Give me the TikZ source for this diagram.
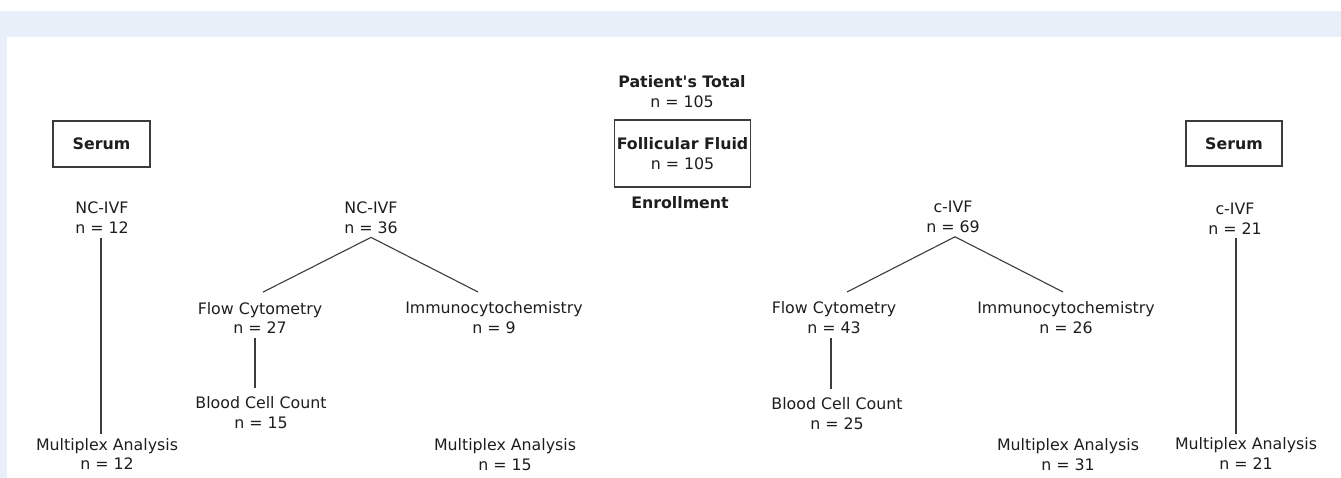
\documentclass[tikz,border=0pt]{standalone}
\usepackage{fontspec}
\newfontfamily\dejavu{DejaVu Sans}
\usetikzlibrary{positioning,calc}
\definecolor{bandblue}{HTML}{E8EFF9}
\definecolor{ink}{HTML}{1E1E1E}
\definecolor{rulegray}{HTML}{3C3C3C}

\begin{document}
\begin{tikzpicture}[x=1pt,y=-1pt,
    lbl/.style={font=\dejavu\fontsize{15.8}{19.8}\selectfont,text=ink,align=center,
      inner xsep=0pt,inner ysep=4pt,outer sep=0pt},
    boxed/.style={lbl,draw=rulegray,line width=1.4pt},
    link/.style={draw=rulegray,line width=1.1pt}]
    \useasboundingbox (0,0) rectangle (1341,478);
    \fill[bandblue] (0,11) rectangle (1341,478);
    \fill[white] (7,37) rectangle (1341,478);

    % enrollment
    \node[lbl] (total) at (682,92) {\textbf{Patient\textquotesingle s Total}\\n = 105};
    \node[boxed,inner xsep=2pt,minimum height=67pt] (ff) at (682.5,153.5) {\textbf{Follicular Fluid}\\n = 105};
    \node[lbl] (enr) at (680,203) {\textbf{Enrollment}};

    \node[boxed,minimum width=97pt,minimum height=46pt] (serL) at (101.5,144) {\textbf{Serum}};
    \node[boxed,minimum width=96pt,minimum height=45pt] (serR) at (1234,143.5) {\textbf{Serum}};

    % NC-IVF side
    \node[lbl] (ncL) at (102,218) {NC-IVF\\n = 12};
    \node[lbl] (mpL) at (107,454) {Multiplex Analysis\\n = 12};
    \node[lbl] (ncM) at (371,217.5) {NC-IVF\\n = 36};
    \node[lbl] (fcM) at (260,318) {Flow Cytometry\\n = 27};
    \node[lbl] (imM) at (494,318) {Immunocytochemistry\\n = 9};
    \node[lbl] (bcM) at (261,413) {Blood Cell Count\\n = 15};
    \node[lbl] (mpM) at (505,455) {Multiplex Analysis\\n = 15};

    % c-IVF side
    \node[lbl] (ciM) at (953,217) {c-IVF\\n = 69};
    \node[lbl] (fcC) at (834,318) {Flow Cytometry\\n = 43};
    \node[lbl] (imC) at (1066,318) {Immunocytochemistry\\n = 26};
    \node[lbl] (bcC) at (837,414) {Blood Cell Count\\n = 25};
    \node[lbl] (mpC) at (1068,454.5) {Multiplex Analysis\\n = 31};
    \node[lbl] (ciR) at (1235,218.5) {c-IVF\\n = 21};
    \node[lbl] (mpR) at (1246,453.5) {Multiplex Analysis\\n = 21};

    \draw[link] ($(ncL.south)+(-1,0)$) -- ($(ncL.south |- mpL.north)+(-1,0)$);
    \draw[link] ($(fcM.north)+(3,-6)$) -- (ncM.south) -- ($(imM.north)+(-16,-6)$);
    \draw[link] ($(fcM.south)+(-5,0)$) -- ($(fcM.south |- bcM.north)+(-5,-5)$);
    \draw[link] ($(fcC.north)+(13,-6)$) -- ($(ciM.south)+(2,0)$) -- ($(imC.north)+(-3,-6)$);
    \draw[link] ($(fcC.south)+(-3,0)$) -- ($(fcC.south |- bcC.north)+(-3,-5)$);
    \draw[link] ($(ciR.south)+(1,0)$) -- ($(ciR.south |- mpR.north)+(1,0)$);
\end{tikzpicture}
\end{document}
